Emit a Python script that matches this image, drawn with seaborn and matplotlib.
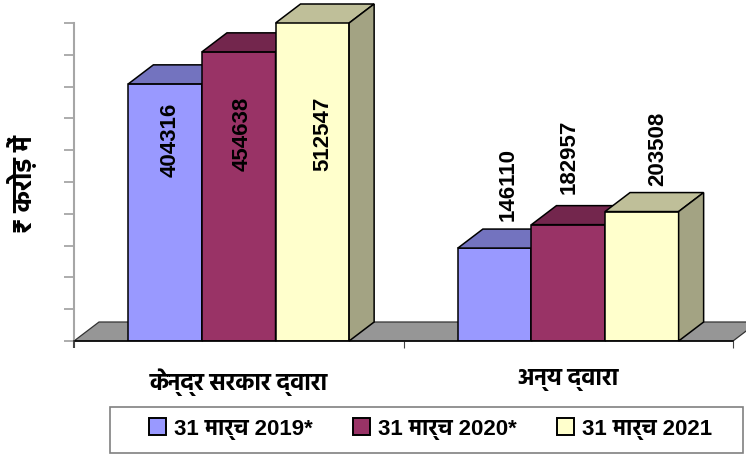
import matplotlib
matplotlib.use('Agg')
import matplotlib.pyplot as plt
from matplotlib.patches import Patch, Polygon, Rectangle
import numpy as np
import pandas as pd
import seaborn as sns

# data
categories = ['केन्द्र सरकार द्वारा', 'अन्य द्वारा']
years = ['31 मार्च 2019*', '31 मार्च 2020*', '31 मार्च 2021']
values_2019 = [404316, 146110]
values_2020 = [454638, 182957]
values_2021 = [512547, 203508]
y_label = '₹ करोड़ में'
y_ticks = list(range(0, 500001, 50000))
colors = ['#9999FF', '#993366', '#FFFFCC']

sns.set_theme(style='white')
plt.rcParams['font.family'] = ['Liberation Sans', 'Hind', 'DejaVu Sans']
hindi_family = ['Hind', 'Liberation Sans', 'DejaVu Sans']

df = pd.DataFrame({
    'category': categories * 3,
    'year': np.repeat(years, 2),
    'value': values_2019 + values_2020 + values_2021,
})

W, H = 746, 454
fig = plt.figure(figsize=(W / 100, H / 100), dpi=100)
ax = fig.add_axes([74 / W, (H - 341) / H, 659 / W, 318 / H])

sns.barplot(data=df, x='category', y='value', hue='year', palette=colors, width=0.67, gap=0,
            saturation=1, edgecolor='black', linewidth=1.1, legend=False, ax=ax)

ax.set_xlim(-0.5, 1.5)
ax.set_ylim(0, 500000)

# 3d look: depth of the boxes in data units
dx = 25 / 659 * 2
dy = 19 / 318 * 500000

ax.add_patch(Polygon([(-0.5, 0), (-0.5 + dx, dy), (1.5 + dx, dy), (1.5, 0)], closed=True, facecolor='#969696',
                     edgecolor='#333333', linewidth=0.9, clip_on=False, zorder=1))

for i, (container, color) in enumerate(zip(ax.containers, colors)):
    rgb = np.array(matplotlib.colors.to_rgb(color))
    for bar in container:
        bar.set_zorder(3 + i)
        x0 = bar.get_x()
        x1 = x0 + bar.get_width()
        top = min(bar.get_height(), 500000)
        ax.add_patch(Polygon([(x0, top), (x0 + dx, top + dy), (x1 + dx, top + dy), (x1, top)], closed=True,
                             facecolor=rgb * 0.75, edgecolor='black', linewidth=1.1, clip_on=False, zorder=3 + i))
        ax.add_patch(Polygon([(x1, 0), (x1 + dx, dy), (x1 + dx, top + dy), (x1, top)], closed=True,
                             facecolor=rgb * 0.64, edgecolor='black', linewidth=1.1, clip_on=False, zorder=3 + i))

# value labels were hand placed in the original: offset in px from bar centre x / bar top
label_offsets = [[(5, -56), (3, -82), (10, -111)], [(13, 64), (1, 68), (16, 63)]]
for i, container in enumerate(ax.containers):
    for j, bar in enumerate(container):
        off = label_offsets[j][i]
        ax.annotate(str(int(bar.get_height())), (bar.get_x() + bar.get_width() / 2, min(bar.get_height(), 500000)),
                    xytext=(off[0] * 0.72, off[1] * 0.72), textcoords='offset points', rotation=90, ha='center',
                    va='center', fontsize=16, fontweight='bold', color='black', zorder=10, annotation_clip=False)

# axes
sns.despine(ax=ax, top=True, right=True)
ax.spines['left'].set_color('#a6a6a6')
ax.spines['left'].set_linewidth(1.5)
ax.spines['bottom'].set_color('black')
ax.spines['bottom'].set_linewidth(1.1)
ax.spines['bottom'].set_zorder(9)
ax.set_yticks(y_ticks)
ax.set_yticklabels([])
ax.tick_params(axis='y', left=True, length=7.5, width=1.3, color='#a6a6a6')
ax.set_xticks([0, 1])
ax.set_xticks([-0.5, 0.5, 1.5], minor=True)
ax.tick_params(axis='x', which='major', bottom=False, pad=14, labelsize=17, labelcolor='black')
ax.tick_params(axis='x', which='minor', bottom=True, length=5, width=0.8, color='#444444')
first_tick = ax.xaxis.get_minor_ticks()[0].tick1line
first_tick.set_color('#a6a6a6')
first_tick.set_markeredgewidth(1.5)
for label in ax.get_xticklabels():
    label.set_fontweight('bold')
    label.set_family(hindi_family)
ax.set_xlabel('')
ax.set_ylabel('')
fig.text(22 / W, 1 - 184 / H, y_label, rotation=90, ha='center', va='center', fontsize=19, fontweight='bold',
         color='black', family=hindi_family)

# legend box drawn apart so the entries can sit where the original has them
fig.add_artist(Rectangle((110 / W, 1 - 453 / H), 633 / W, 46 / H, transform=fig.transFigure, facecolor='white',
                         edgecolor='#808080', linewidth=1.2))
handles = [Patch(facecolor=c, edgecolor='black', linewidth=1.4) for c in colors]
leg = fig.legend(handles, years, ncol=3, loc='center left', bbox_to_anchor=(149 / W, 1 - 429 / H),
                 prop={'weight': 'bold', 'size': 16}, frameon=False, handlelength=0.77, handleheight=0.77,
                 handletextpad=0.36, columnspacing=1.8, borderpad=0, borderaxespad=0, labelcolor='black')

fig.savefig('out.png', dpi=100)
